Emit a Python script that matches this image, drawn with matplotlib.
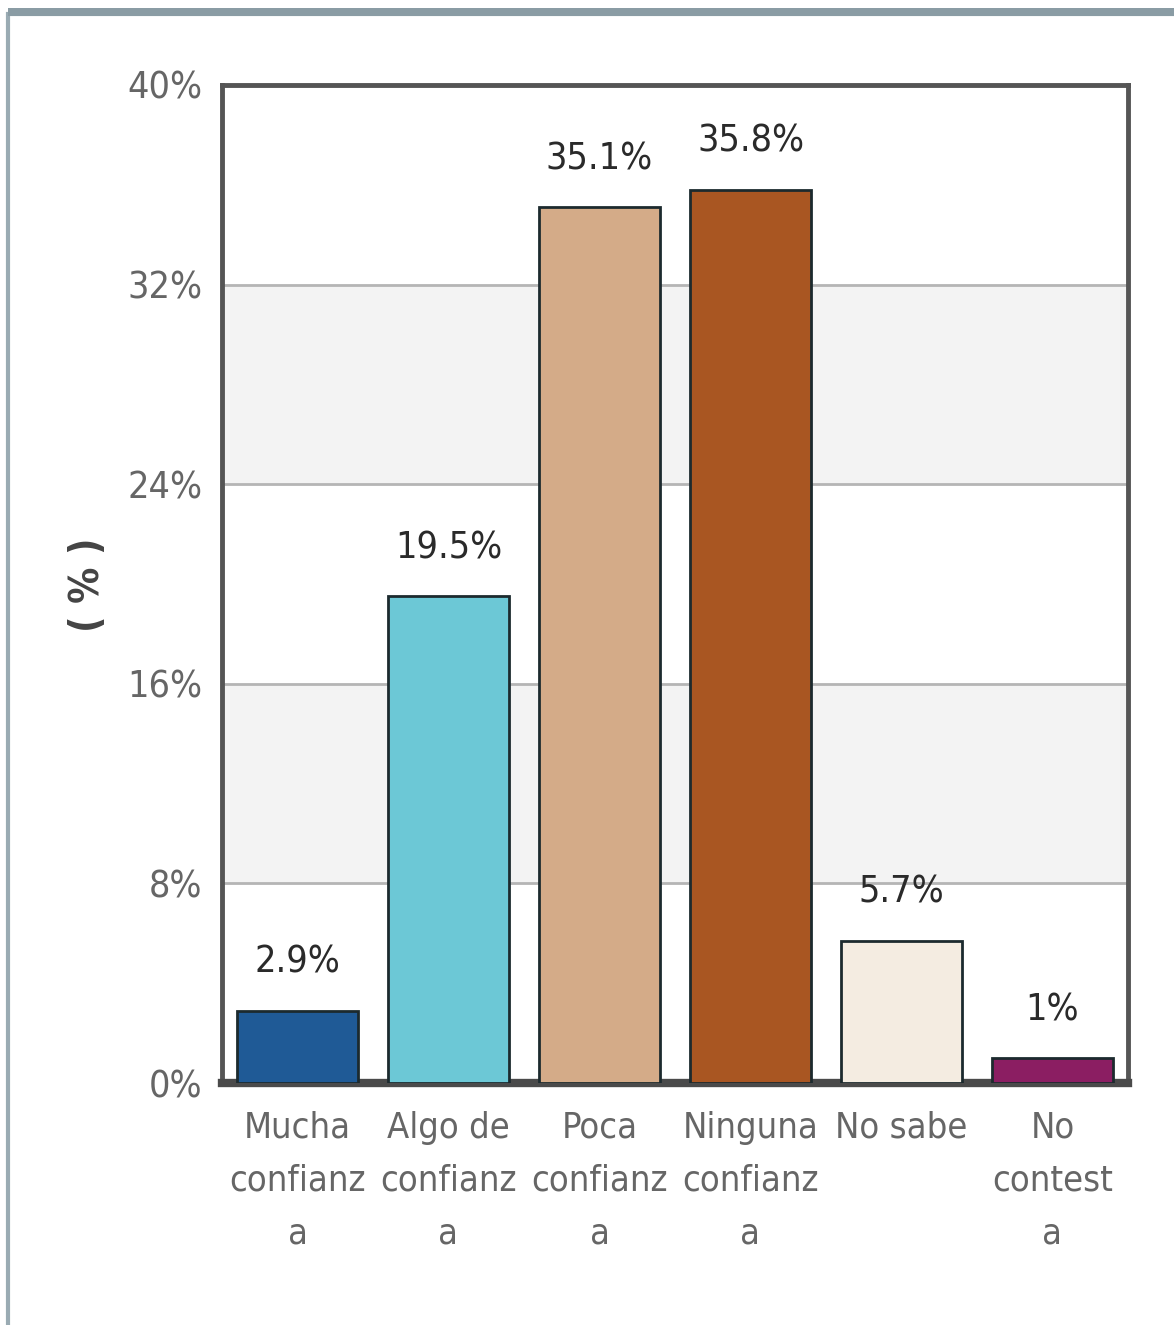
import matplotlib.pyplot as plt
from matplotlib.patches import Rectangle

categories = ["Mucha\nconfianz\na", "Algo de\nconfianz\na", "Poca\nconfianz\na",
              "Ninguna\nconfianz\na", "No sabe", "No\ncontest\na"]
values = [2.9, 19.5, 35.1, 35.8, 5.7, 1.0]
value_labels = ["2.9%", "19.5%", "35.1%", "35.8%", "5.7%", "1%"]
colors = ["#1f5a96", "#6cc8d6", "#d4ab88", "#a95622", "#f4ece1", "#8b1e62"]
y_ticks = [0, 8, 16, 24, 32, 40]

plt.rcParams["font.family"] = ["DejaVu Sans"]
plt.rcParams["font.stretch"] = "condensed"

W, H = 1174, 1325
fig = plt.figure(figsize=(W / 100, H / 100), dpi=100)

# outer frame of the web widget (bottom and right edges run off the image)
fig.patches.append(Rectangle((8 / W, -0.1), 1.2, 1.1 - 14 / H, transform=fig.transFigure,
                             facecolor="none", edgecolor="#9aabb3", linewidth=3, zorder=0))
fig.patches.append(Rectangle((8 / W, (H - 16) / H), 1.2, 8 / H, transform=fig.transFigure,
                             facecolor="#8a9ca4", edgecolor="none", zorder=1))

ax = fig.add_axes([222 / W, 1 - 1083 / H, (1128 - 222) / W, (1083 - 85) / H])
ax.set_xlim(-0.5, len(values) - 0.5)
ax.set_ylim(0, 40)

# alternating bands
for lo in [8, 24]:
    ax.axhspan(lo, lo + 8, color="#f3f3f3", zorder=0)
for t in y_ticks[1:-1]:
    ax.axhline(t, color="#b5b5b5", linewidth=2, zorder=1)

x = range(len(values))
ax.bar(x, values, width=0.8, color=colors, edgecolor="#1c2a2e", linewidth=2, zorder=3)

for xi, v, lab in zip(x, values, value_labels):
    ax.text(xi, v + 1.2, lab, ha="center", va="bottom", fontsize=27, color="#2a2a2a")

ax.set_yticks(y_ticks)
ax.set_yticklabels([f"{t}%" for t in y_ticks], fontsize=27, color="#666666")
ax.set_xticks(list(x))
ax.set_xticklabels(categories, fontsize=26, color="#666666", linespacing=1.7, va="top")
ax.tick_params(axis="both", length=0, pad=20)
ax.tick_params(axis="y", pad=14)

for side in ["left", "right", "top"]:
    ax.spines[side].set_color("#555555")
    ax.spines[side].set_linewidth(3.5)
ax.spines["bottom"].set_color("#4a4a4a")
ax.spines["bottom"].set_linewidth(6)

fig.text(88 / W, 1 - 585 / H, "( % )", rotation=90, ha="center", va="center",
         fontsize=29, color="#444444", fontweight="bold")

fig.savefig("out.png", dpi=100)
